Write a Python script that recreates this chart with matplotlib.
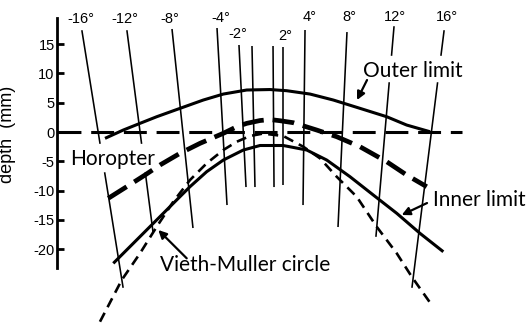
import numpy as np
import matplotlib
matplotlib.use("Agg")
import matplotlib.pyplot as plt

# ---------------- data (depth in mm, lateral position in mm) ----------------
yticks = [-20, -15, -10, -5, 0, 5, 10, 15]

# lines of visual direction (top / bottom end points) and label-gaps
dir_labels = ['-16°', '-12°', '-8°', '-4°', '-2°', '', '', '2°', '4°', '8°', '12°', '16°']
dir_top_x = [-30.89, -23.21, -15.53, -7.85, -4.10, -1.88, 1.71, 3.41, 7.17, 14.33, 22.35, 30.89]
dir_top_y = [17.24, 17.24, 17.58, 17.75, 14.85, 14.68, 14.68, 14.51, 17.41, 17.06, 17.92, 17.24]
dir_bot_x = [-23.89, -18.77, -11.95, -6.14, -2.90, -1.37, 1.88, 3.41, 6.83, 12.80, 19.28, 25.43]
dir_bot_y = [-26.45, -17.06, -16.38, -12.46, -9.39, -9.39, -9.39, -9.04, -12.46, -16.21, -17.75, -26.45]
gap_hi = [-1.88, -1.88, np.nan, np.nan, np.nan, np.nan, np.nan, np.nan, np.nan, np.nan, 13.14, 13.14]
gap_lo = [-7.00, -7.00, np.nan, np.nan, np.nan, np.nan, np.nan, np.nan, np.nan, np.nan, 8.36, 8.36]
label_x = [-31.06, -23.55, -15.87, -7.17, -4.27, 0, 0, 3.75, 8.02, 14.68, 22.53, 31.40]
label_y = [19.28, 19.28, 19.28, 19.45, 16.72, 0, 0, 16.38, 19.62, 19.62, 19.62, 19.62]

outer_x = [-26.96, -23.84, -20.99, -18.14, -14.16, -10.19, -6.77, -2.78, 1.19, 4.04,
           8.02, 12.00, 16.55, 21.11, 24.52, 28.50]
outer_y = [-1.08, 0.34, 1.48, 2.61, 4.04, 5.46, 6.48, 7.17, 7.25, 7.05,
           6.48, 5.46, 4.04, 2.61, 1.19, 0.05]

horopter_x = [-26.40, -23.26, -20.14, -17.58, -14.16, -10.75, -6.77, -4.49, -2.78, -0.51,
              1.19, 2.90, 5.17, 9.16, 12.58, 16.55, 21.11, 24.52, 27.94]
horopter_y = [-11.31, -9.33, -7.34, -5.63, -3.63, -1.93, -0.22, 0.90, 1.48, 1.96,
              2.13, 1.93, 1.59, 0.34, -0.80, -2.51, -5.07, -7.34, -9.33]

inner_x = [-25.55, -22.13, -18.72, -15.31, -12.46, -9.61, -6.77, -3.36, -0.51, 3.46,
           7.46, 10.87, 14.85, 18.82, 22.82, 26.79, 30.77]
inner_y = [-22.41, -18.99, -15.58, -12.17, -9.33, -6.77, -4.78, -3.07, -2.30, -2.30,
           -3.07, -4.78, -7.63, -10.75, -13.87, -17.29, -20.43]

vm_x = [-27.82, -24.11, -20.99, -18.14, -15.31, -12.46, -9.61, -6.77, -4.49, -2.22,
        0.00, 3.46, 6.88, 9.73, 12.58, 15.99, 19.40, 22.82, 25.38, 28.79]
vm_y = [-32.37, -25.26, -20.70, -16.16, -11.89, -8.19, -5.34, -3.07, -1.66, -0.68,
        -0.26, -0.68, -2.51, -4.49, -7.63, -11.04, -16.16, -20.70, -24.69, -29.52]

zero_x = [-34.98, 33.96]
zero_y = [0, 0]

# ---------------- figure ----------------
fig = plt.figure(figsize=(5.29, 3.23), dpi=100)
ax = fig.add_axes([0, 0, 1, 1])
ax.set_xlim(-44.88, 45.39)
ax.set_ylim(-32.59, 22.53)
ax.patch.set_alpha(0)

for s in ['top', 'right', 'bottom']:
    ax.spines[s].set_visible(False)
ax.spines['left'].set_position(('data', -35.07))
ax.spines['left'].set_bounds(-23.2, 19.45)
ax.spines['left'].set_linewidth(2.0)
ax.set_xticks([])
ax.set_yticks(yticks)
ax.set_yticklabels([str(t) for t in yticks], fontsize=10.5, family='Liberation Sans')
ax.tick_params(axis='y', direction='in', length=5, width=2.0, pad=2)
ax.set_ylabel('depth  (mm)', fontsize=13, family='Liberation Sans')
ax.yaxis.set_label_coords(0.031, 0.585)

# direction lines
for i in range(len(dir_labels)):
    x0, y0, x1, y1 = dir_top_x[i], dir_top_y[i], dir_bot_x[i], dir_bot_y[i]
    fx = lambda yy: x0 + (x1 - x0) * (yy - y0) / (y1 - y0)
    if np.isnan(gap_hi[i]):
        ax.plot([x0, x1], [y0, y1], color='black', lw=1.15, solid_capstyle='butt')
    else:
        ax.plot([x0, fx(gap_hi[i])], [y0, gap_hi[i]], color='black', lw=1.15)
        ax.plot([fx(gap_lo[i]), x1], [gap_lo[i], y1], color='black', lw=1.15)
    if dir_labels[i]:
        ax.text(label_x[i], label_y[i], dir_labels[i], ha='center', va='center',
                fontsize=10.5, family='Liberation Sans')

# zero depth line
ax.plot(zero_x, zero_y, color='black', lw=2.2, dashes=(7.5, 3.2))

# curves
ax.plot(outer_x, outer_y, color='black', lw=2.2, solid_capstyle='butt')
ax.plot(inner_x, inner_y, color='black', lw=2.2, solid_capstyle='butt')
ax.plot(horopter_x, horopter_y, color='black', lw=3.4, dashes=(4.6, 1.9))
ax.plot(vm_x, vm_y, color='black', lw=1.9, dashes=(3.8, 2.4))

# labels and arrows
lab_font = dict(fontsize=15, family='Lato')
ax.text(25.60, 10.41, 'Outer limit', ha='center', va='center', **lab_font)
ax.text(29.01, -11.60, 'Inner limit', ha='left', va='center', **lab_font)
ax.text(-17.58, -22.70, 'Vieth-Muller circle', ha='left', va='center', **lab_font)
ax.text(-25.68, -4.61, 'Horopter', ha='center', va='center', **lab_font)

arrow = dict(arrowstyle='-|>', color='black', lw=1.6, mutation_scale=12,
             shrinkA=0, shrinkB=0)
ax.annotate('', xy=(16.04, 5.46), xytext=(17.75, 8.87), arrowprops=arrow)
ax.annotate('', xy=(23.67, -14.16), xytext=(27.99, -12.12), arrowprops=arrow)
ax.annotate('', xy=(-17.87, -16.72), xytext=(-13.02, -21.55), arrowprops=arrow)

fig.savefig('out.png', dpi=100)
